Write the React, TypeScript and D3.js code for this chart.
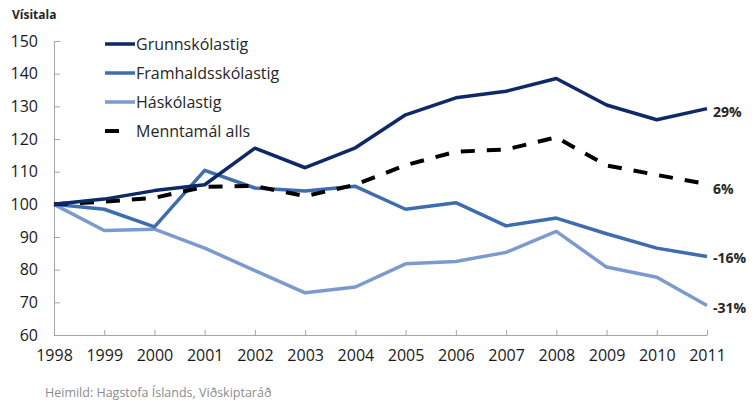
import React, { useEffect, useRef } from "react";
import * as d3 from "d3";

const years = [1998, 1999, 2000, 2001, 2002, 2003, 2004, 2005, 2006, 2007, 2008, 2009, 2010, 2011];
const grunnskoli = [100, 101.6, 104.2, 106, 117.2, 111.2, 117.3, 127.4, 132.6, 134.6, 138.5, 130.4, 125.9, 129.3];
const framhaldsskoli = [100, 98.5, 93.1, 110.4, 105, 104.1, 105.5, 98.5, 100.5, 93.4, 95.8, 91, 86.6, 84];
const haskoli = [100, 92, 92.4, 86.6, 79.7, 72.9, 74.7, 81.8, 82.5, 85.3, 91.7, 80.8, 77.7, 69];
const menntamal = [100, 100.8, 102, 105.4, 105.6, 102.5, 106, 112, 116.1, 116.8, 120.5, 111.9, 109, 106.2];
const seriesNames = ["Grunnskólastig", "Framhaldsskólastig", "Háskólastig", "Menntamál alls"];
const endLabels = ["29%", "-16%", "-31%", "6%"];
const yTicks = [60, 70, 80, 90, 100, 110, 120, 130, 140, 150];

const W = 755;
const H = 403;
const FONT = "'Open Sans', 'Noto Sans', sans-serif";

const App: React.FC = () => {
  const ref = useRef<SVGSVGElement | null>(null);

  useEffect(() => {
    if (!ref.current) return;
    const svg = d3.select(ref.current);
    svg.selectAll("*").remove();

    const x = d3.scaleLinear().domain([1998, 2011]).range([54, 707]);
    const y = d3.scaleLinear().domain([60, 150]).range([335, 41]);

    const series = [
      { name: seriesNames[0], values: grunnskoli, color: "#0e2868", dash: null, label: endLabels[0], dy: 3 },
      { name: seriesNames[1], values: framhaldsskoli, color: "#3e6daf", dash: null, label: endLabels[1], dy: 1 },
      { name: seriesNames[2], values: haskoli, color: "#7b9bcf", dash: null, label: endLabels[2], dy: 2 },
      { name: seriesNames[3], values: menntamal, color: "#000000", dash: "14,12", label: endLabels[3], dy: 5 },
    ];

    // y axis, ticks pointing inward
    const yAxis = d3.axisLeft(y).tickValues(yTicks).tickSizeInner(-6).tickSizeOuter(0).tickPadding(16);
    const gy = svg.append("g").attr("transform", "translate(54,0)").call(yAxis);
    gy.select(".domain").attr("stroke", "#a6a6a6");
    gy.selectAll(".tick line").attr("stroke", "#a6a6a6");
    gy.selectAll("text")
      .style("font-family", FONT)
      .style("font-size", "16px")
      .attr("fill", "#1a1a1a");

    // x axis
    const xAxis = d3
      .axisBottom(x)
      .tickValues(years)
      .tickFormat((d) => String(d))
      .tickSizeInner(-5)
      .tickSizeOuter(0)
      .tickPadding(15);
    const gx = svg.append("g").attr("transform", "translate(0,335)").call(xAxis);
    gx.select(".domain").attr("stroke", "#a6a6a6");
    gx.selectAll(".tick line").attr("stroke", "#a6a6a6");
    gx.selectAll("text")
      .style("font-family", FONT)
      .style("font-size", "16px")
      .attr("fill", "#1a1a1a");

    // y title
    svg
      .append("text")
      .attr("x", 12)
      .attr("y", 19)
      .style("font-family", FONT)
      .style("font-size", "12px")
      .style("font-weight", "bold")
      .attr("fill", "#262626")
      .text("Vísitala");

    const line = d3
      .line<number>()
      .x((_, i) => x(years[i]))
      .y((d) => y(d));

    // light ones first so the dark line ends up on top
    [series[2], series[1], series[3], series[0]].forEach((s) => {
      const p = svg
        .append("path")
        .datum(s.values)
        .attr("d", line)
        .attr("fill", "none")
        .attr("stroke", s.color)
        .attr("stroke-width", 3.5)
        .attr("stroke-linejoin", "round");
      if (s.dash) p.attr("stroke-dasharray", s.dash).attr("stroke-width", 4);
    });

    // end labels
    series.forEach((s) => {
      const last = s.values[s.values.length - 1];
      svg
        .append("text")
        .attr("x", x(2011) + 6)
        .attr("y", y(last) + s.dy)
        .attr("dy", "0.35em")
        .style("font-family", FONT)
        .style("font-size", "14px")
        .style("font-weight", "bold")
        .attr("fill", "#262626")
        .text(s.label);
    });

    // legend
    const legend = svg.append("g").attr("transform", "translate(105,44)");
    series.forEach((s, i) => {
      const row = legend.append("g").attr("transform", `translate(0,${i * 29})`);
      row
        .append("line")
        .attr("x1", 0)
        .attr("x2", s.dash ? 14 : 30)
        .attr("y1", 0)
        .attr("y2", 0)
        .attr("stroke", s.color)
        .attr("stroke-width", s.dash ? 4 : 3.5);
      row
        .append("text")
        .attr("x", 31)
        .attr("y", 0)
        .attr("dy", "0.35em")
        .style("font-family", FONT)
        .style("font-size", "16px")
        .attr("fill", "#262626")
        .text(s.name);
    });

    // source
    svg
      .append("text")
      .attr("x", 45)
      .attr("y", 397)
      .style("font-family", FONT)
      .style("font-size", "12.5px")
      .attr("fill", "#8c8c8c")
      .text("Heimild: Hagstofa Íslands, Viðskiptaráð");
  }, []);

  return (
    <svg
      ref={ref}
      width={W}
      height={H}
      style={{ position: "absolute", left: 0, top: 0, background: "#fff" }}
    ></svg>
  );
};

export default App;
